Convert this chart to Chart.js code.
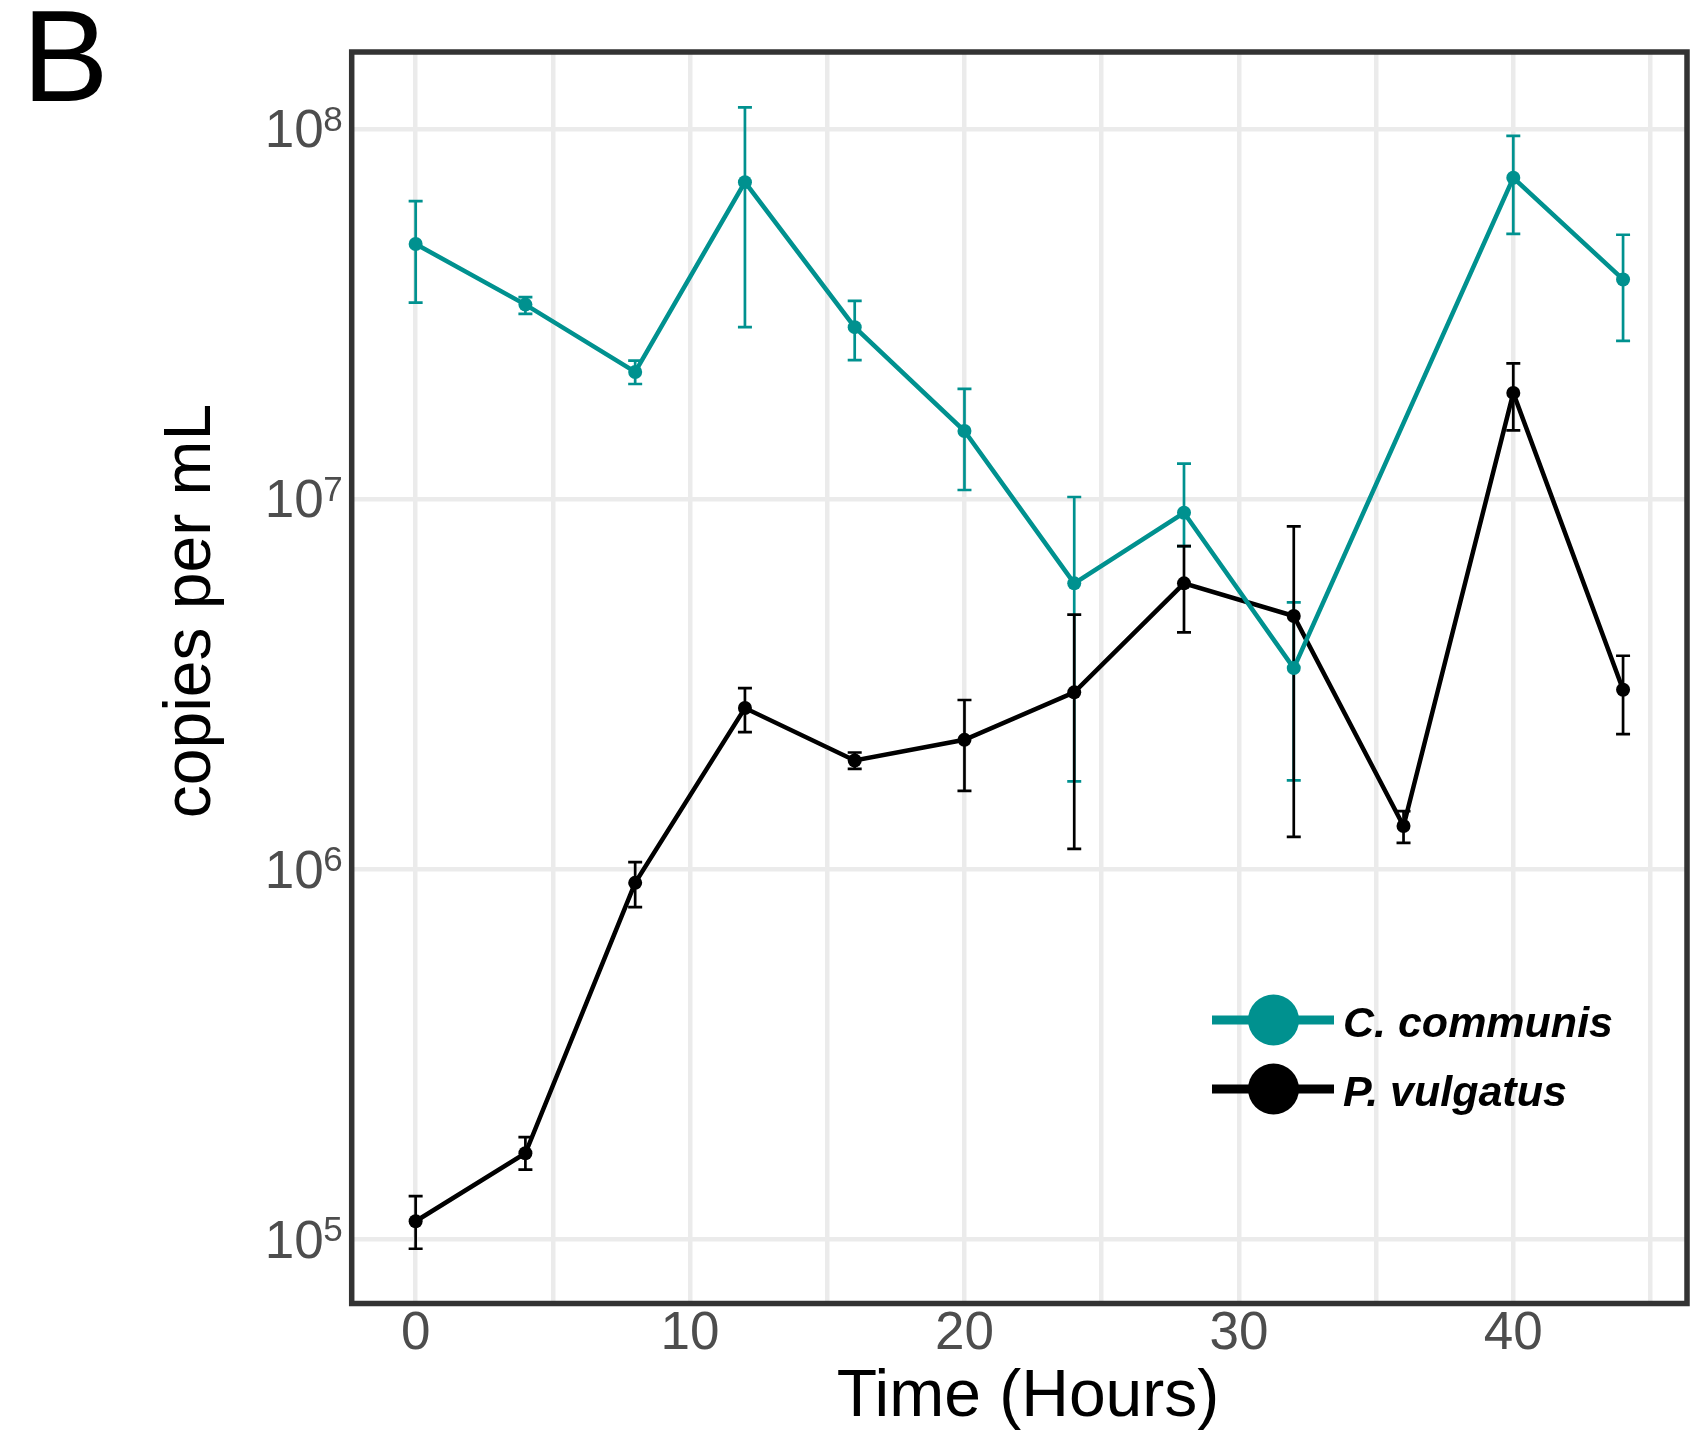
<!DOCTYPE html>
<html>
<head>
<meta charset="utf-8">
<script src="https://cdn.jsdelivr.net/npm/chart.js"></script>
<style>
  body { margin: 0; background: #fff; }
  #wrap { width: 1695px; height: 1437px; }
</style>
</head>
<body>
<div id="wrap"><canvas id="myChart"></canvas></div>
<script>
// sampling times (hours)
const hours = [0, 4, 8, 12, 16, 20, 24, 28, 32, 36, 40, 44];

// C. communis (no sample at 36 h)
const commMean = [4.9e7, 3.36e7, 2.21e7, 7.2e7, 2.92e7, 1.53e7, 5.93e6, 9.2e6, 3.5e6, null, 7.4e7, 3.93e7];
const commLow  = [3.4e7, 3.17e7, 2.05e7, 2.92e7, 2.38e7, 1.06e7, 1.73e6, 7.48e6, 1.74e6, null, 5.22e7, 2.68e7];
const commHigh = [6.4e7, 3.52e7, 2.37e7, 1.146e8, 3.44e7, 1.99e7, 1.015e7, 1.25e7, 5.27e6, null, 9.6e7, 5.19e7];

// P. vulgatus
const vulgMean = [1.12e5, 1.71e5, 9.2e5, 2.73e6, 1.97e6, 2.24e6, 3.01e6, 5.93e6, 4.84e6, 1.31e6, 1.94e7, 3.06e6];
const vulgLow  = [9.44e4, 1.545e5, 7.91e5, 2.35e6, 1.87e6, 1.63e6, 1.137e6, 4.37e6, 1.225e6, 1.18e6, 1.537e7, 2.32e6];
const vulgHigh = [1.31e5, 1.89e5, 1.047e6, 3.09e6, 2.07e6, 2.87e6, 4.88e6, 7.48e6, 8.45e6, 1.437e6, 2.33e7, 3.78e6];

const xGrid = [0, 5, 10, 15, 20, 25, 30, 35, 40, 45];
const yTicks = [1e5, 1e6, 1e7, 1e8];
const seriesNames = ['C. communis', 'P. vulgatus'];

const TEAL = '#00918f';
const FONT = "'Liberation Sans', Arial, Helvetica, sans-serif";

const toPoints = (ys) => hours.map((h, i) => ({ x: h, y: ys[i] }));
const errs = [[commLow, commHigh], [vulgLow, vulgHigh]];

// error bars, frame, exponents, titles, legend and panel letter
const extras = {
    id: 'extras',
    beforeDatasetsDraw(chart) {
        const ctx = chart.ctx;
        const yScale = chart.scales.y;
        chart.data.datasets.forEach((ds, i) => {
            const meta = chart.getDatasetMeta(i);
            const [lo, hi] = errs[i];
            ctx.save();
            ctx.strokeStyle = ds.borderColor;
            ctx.lineWidth = 2.7;
            meta.data.forEach((pt, j) => {
                if (lo[j] == null) return;
                const x = pt.x;
                const y1 = yScale.getPixelForValue(lo[j]);
                const y2 = yScale.getPixelForValue(hi[j]);
                ctx.beginPath();
                ctx.moveTo(x, y1); ctx.lineTo(x, y2);
                ctx.moveTo(x - 7, y1); ctx.lineTo(x + 7, y1);
                ctx.moveTo(x - 7, y2); ctx.lineTo(x + 7, y2);
                ctx.stroke();
            });
            ctx.restore();
        });
    },
    afterDraw(chart) {
        const ctx = chart.ctx;
        const a = chart.chartArea;
        const yScale = chart.scales.y;
        ctx.save();
        // panel border
        ctx.strokeStyle = '#333333';
        ctx.lineWidth = 5.5;
        ctx.strokeRect(a.left, a.top, a.right - a.left, a.bottom - a.top);

        // exponents of the y tick labels
        ctx.fillStyle = '#4d4d4d';
        ctx.font = '35px ' + FONT;
        ctx.textAlign = 'left';
        ctx.textBaseline = 'alphabetic';
        yTicks.forEach(v => {
            const py = yScale.getPixelForValue(v);
            ctx.fillText(String(Math.round(Math.log10(v))), a.left - 28.5, py + 1.5);
        });

        // axis titles
        ctx.fillStyle = '#000';
        ctx.font = '66px ' + FONT;
        ctx.textAlign = 'center';
        ctx.fillText('Time (Hours)', 1028, 1416);
        ctx.save();
        ctx.translate(210, 611);
        ctx.rotate(-Math.PI / 2);
        ctx.fillText('copies per mL', 0, 0);
        ctx.restore();

        // panel letter
        ctx.textAlign = 'left';
        ctx.font = '130px ' + FONT;
        ctx.fillText('B', 22, 101);

        // legend
        const rows = [1020, 1089];
        chart.data.datasets.forEach((ds, i) => {
            const cy = rows[i];
            ctx.strokeStyle = ds.borderColor;
            ctx.lineWidth = 9;
            ctx.beginPath();
            ctx.moveTo(1212, cy); ctx.lineTo(1334, cy);
            ctx.stroke();
            ctx.fillStyle = ds.borderColor;
            ctx.beginPath();
            ctx.arc(1273.5, cy, 25.5, 0, Math.PI * 2);
            ctx.fill();
            ctx.fillStyle = '#000';
            ctx.font = 'italic bold 43px ' + FONT;
            ctx.fillText(seriesNames[i], 1343, cy + 16.5);
        });
        ctx.restore();
    }
};

const ctx = document.getElementById('myChart').getContext('2d');
const myChart = new Chart(ctx, {
    type: 'line',
    data: {
        datasets: [{
            label: seriesNames[0],
            data: toPoints(commMean),
            borderColor: TEAL,
            backgroundColor: TEAL,
            borderWidth: 4.5,
            pointRadius: 7,
            pointBorderWidth: 0,
            pointBackgroundColor: TEAL,
            spanGaps: true,
            tension: 0
        }, {
            label: seriesNames[1],
            data: toPoints(vulgMean),
            borderColor: '#000000',
            backgroundColor: '#000000',
            borderWidth: 4.5,
            pointRadius: 7,
            pointBorderWidth: 0,
            pointBackgroundColor: '#000000',
            tension: 0
        }]
    },
    options: {
        responsive: true,
        maintainAspectRatio: false,
        animation: false,
        events: [],
        layout: { padding: { top: 52, right: 8, left: 0, bottom: 0 } },
        plugins: {
            legend: { display: false },
            tooltip: { enabled: false }
        },
        scales: {
            x: {
                type: 'linear',
                min: -2.33,
                max: 46.33,
                afterBuildTicks: (axis) => { axis.ticks = xGrid.map(v => ({ value: v })); },
                afterFit: (scale) => {
                    scale.height = 133.5;
                    scale.paddingLeft = 0;
                    scale.paddingRight = 0;
                },
                border: { display: false },
                grid: { color: '#ebebeb', lineWidth: 4.5, drawTicks: false },
                ticks: {
                    autoSkip: false,
                    maxRotation: 0,
                    padding: 4,
                    color: '#4d4d4d',
                    font: { family: FONT, size: 53, lineHeight: 1 },
                    callback: (v) => (v % 10 === 0 ? String(v) : '')
                }
            },
            y: {
                type: 'logarithmic',
                min: Math.pow(10, 4.827),
                max: Math.pow(10, 8.209),
                afterBuildTicks: (axis) => { axis.ticks = yTicks.map(v => ({ value: v })); },
                afterFit: (scale) => {
                    scale.width = 351.7;
                    scale.paddingTop = 0;
                    scale.paddingBottom = 0;
                },
                border: { display: false },
                grid: { color: '#ebebeb', lineWidth: 4.5, drawTicks: false },
                ticks: {
                    autoSkip: false,
                    padding: 28,
                    labelOffset: 3.5,
                    color: '#4d4d4d',
                    font: { family: FONT, size: 53 },
                    callback: () => '10'
                }
            }
        }
    },
    plugins: [extras]
});
</script>
</body>
</html>
